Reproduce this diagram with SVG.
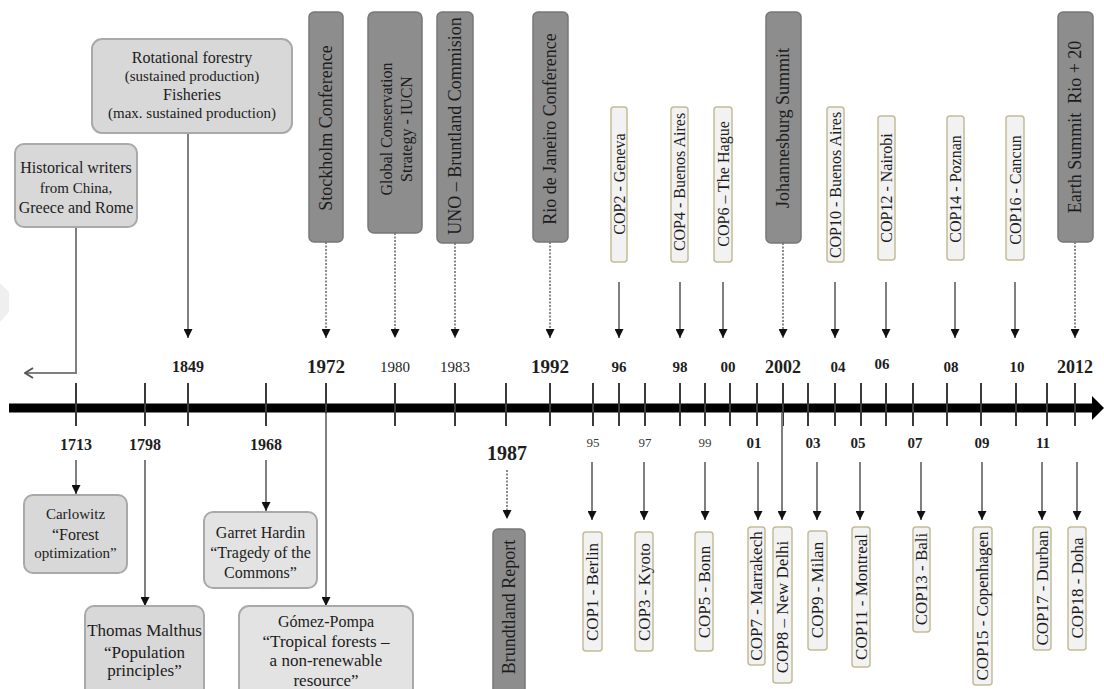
<svg xmlns="http://www.w3.org/2000/svg" width="1104" height="689" viewBox="0 0 1104 689">
<defs>
<style>
.t{font-family:'Liberation Serif','Times New Roman',serif;fill:#1c1c1c}
.yr{font-family:'Liberation Serif','Times New Roman',serif;fill:#1e1e1e;text-anchor:middle}
.sm{fill:#3a3a3a}
.b{font-weight:bold}
.bl{fill:#d8d8d8;stroke:#a9a9a9;stroke-width:2}
.bl2{fill:#e3e3e3;stroke:#a9a9a9;stroke-width:2}
.bd{fill:#8d8d8d;stroke:#777;stroke-width:1.5}
.bc{fill:#f2f2f2;stroke:#c3bc96;stroke-width:1.5}
.conn{stroke:#7f7f7f;stroke-width:2;fill:none}
.dot{stroke:#8a8a8a;stroke-width:2;stroke-dasharray:2 1.5;fill:none}
.tick{stroke:#3a3a3a;stroke-width:2}
.c{text-anchor:middle}
</style>
<marker id="ah" viewBox="0 0 10 10" refX="10" refY="5" markerWidth="9" markerHeight="9" markerUnits="userSpaceOnUse" orient="auto">
<path d="M0,0 L10,5 L0,10 z" fill="#111"/>
</marker>
<marker id="oh" viewBox="0 0 10 12" refX="9" refY="6" markerWidth="10" markerHeight="12" markerUnits="userSpaceOnUse" orient="auto">
<path d="M1,1 L9,6 L1,11" fill="none" stroke="#555" stroke-width="2"/>
</marker>
</defs>
<rect width="1104" height="689" fill="#fff"/>
<polygon points="0,283 9,292 9,312 0,322" fill="#efefef"/>

<!-- timeline axis -->
<g id="axis">
<line x1="9" y1="408" x2="1094" y2="408" stroke="#000" stroke-width="9"/>
<polygon points="1092,396 1104,408 1092,420" fill="#000"/>
<g class="tick">
<line x1="76" y1="383" x2="76" y2="426"/>
<line x1="145" y1="383" x2="145" y2="426"/>
<line x1="188" y1="383" x2="188" y2="426"/>
<line x1="266" y1="383" x2="266" y2="426"/>
<line x1="326" y1="383" x2="326" y2="426"/>
<line x1="395" y1="383" x2="395" y2="426"/>
<line x1="455" y1="383" x2="455" y2="426"/>
<line x1="506" y1="383" x2="506" y2="426"/>
<line x1="550" y1="383" x2="550" y2="426"/>
<line x1="593" y1="383" x2="593" y2="426"/>
<line x1="619" y1="383" x2="619" y2="426"/>
<line x1="645" y1="383" x2="645" y2="426"/>
<line x1="680" y1="383" x2="680" y2="426"/>
<line x1="705" y1="383" x2="705" y2="426"/>
<line x1="730" y1="383" x2="730" y2="426"/>
<line x1="757" y1="383" x2="757" y2="426"/>
<line x1="783" y1="383" x2="783" y2="426"/>
<line x1="808" y1="383" x2="808" y2="426"/>
<line x1="835" y1="383" x2="835" y2="426"/>
<line x1="861" y1="383" x2="861" y2="426"/>
<line x1="886" y1="383" x2="886" y2="426"/>
<line x1="913" y1="383" x2="913" y2="426"/>
<line x1="947" y1="383" x2="947" y2="426"/>
<line x1="981" y1="383" x2="981" y2="426"/>
<line x1="1016" y1="383" x2="1016" y2="426"/>
<line x1="1047" y1="383" x2="1047" y2="426"/>
<line x1="1075" y1="383" x2="1075" y2="426"/>
</g>
</g>

<!-- year labels -->
<g id="years">
<text class="yr b" x="188" y="372" font-size="16">1849</text>
<text class="yr b" x="326" y="373" font-size="19">1972</text>
<text class="yr" x="395" y="372" font-size="15">1980</text>
<text class="yr" x="455" y="372" font-size="15">1983</text>
<text class="yr b" x="550" y="373" font-size="19">1992</text>
<text class="yr b" x="619" y="372" font-size="15">96</text>
<text class="yr b" x="680" y="372" font-size="15">98</text>
<text class="yr b" x="728" y="372" font-size="15">00</text>
<text class="yr b" x="783" y="373" font-size="18">2002</text>
<text class="yr b" x="838" y="372" font-size="15">04</text>
<text class="yr b" x="882" y="369" font-size="15">06</text>
<text class="yr b" x="951" y="372" font-size="15">08</text>
<text class="yr b" x="1017" y="372" font-size="15">10</text>
<text class="yr b" x="1075" y="373" font-size="18">2012</text>
<text class="yr b" x="76" y="450" font-size="16">1713</text>
<text class="yr b" x="145" y="450" font-size="16">1798</text>
<text class="yr b" x="266" y="450" font-size="16">1968</text>
<text class="yr b" x="507" y="460" font-size="20">1987</text>
<text class="yr sm" x="593" y="447" font-size="13">95</text>
<text class="yr sm" x="645" y="447" font-size="13">97</text>
<text class="yr sm" x="705" y="447" font-size="13">99</text>
<text class="yr b" x="754" y="448" font-size="15">01</text>
<text class="yr b" x="813" y="448" font-size="15">03</text>
<text class="yr b" x="858" y="448" font-size="15">05</text>
<text class="yr b" x="915" y="448" font-size="15">07</text>
<text class="yr b" x="982" y="448" font-size="15">09</text>
<text class="yr b" x="1043" y="448" font-size="15">11</text>
</g>

<!-- connectors -->
<g id="connectors">
<polyline class="conn" points="76,227 76,373 25,373" stroke="#666" marker-end="url(#oh)"/>
<line class="conn" x1="188" y1="133" x2="188" y2="338" marker-end="url(#ah)"/>
<line class="dot" x1="326" y1="242" x2="326" y2="338" marker-end="url(#ah)"/>
<line class="dot" x1="395" y1="233" x2="395" y2="338" marker-end="url(#ah)"/>
<line class="dot" x1="455" y1="243" x2="455" y2="338" marker-end="url(#ah)"/>
<line class="dot" x1="550" y1="242" x2="550" y2="338" marker-end="url(#ah)"/>
<line class="conn" x1="619" y1="282" x2="619" y2="338" marker-end="url(#ah)"/>
<line class="conn" x1="680" y1="282" x2="680" y2="338" marker-end="url(#ah)"/>
<line class="conn" x1="723" y1="282" x2="723" y2="338" marker-end="url(#ah)"/>
<line class="dot" x1="783" y1="243" x2="783" y2="338" marker-end="url(#ah)"/>
<line class="conn" x1="835" y1="282" x2="835" y2="338" marker-end="url(#ah)"/>
<line class="conn" x1="886" y1="282" x2="886" y2="338" marker-end="url(#ah)"/>
<line class="conn" x1="955" y1="282" x2="955" y2="338" marker-end="url(#ah)"/>
<line class="conn" x1="1015" y1="282" x2="1015" y2="338" marker-end="url(#ah)"/>
<line class="dot" x1="1075" y1="242" x2="1075" y2="338" marker-end="url(#ah)"/>

<line class="conn" x1="76" y1="460" x2="76" y2="494" marker-end="url(#ah)"/>
<line class="conn" x1="145" y1="460" x2="145" y2="606" marker-end="url(#ah)"/>
<line class="conn" x1="266" y1="460" x2="266" y2="511" marker-end="url(#ah)"/>
<line class="conn" x1="326" y1="413" x2="326" y2="606" marker-end="url(#ah)"/>
<line class="dot" x1="507" y1="470" x2="507" y2="519" marker-end="url(#ah)"/>
<line class="conn" x1="592" y1="462" x2="592" y2="520" marker-end="url(#ah)"/>
<line class="conn" x1="644" y1="462" x2="644" y2="520" marker-end="url(#ah)"/>
<line class="conn" x1="705" y1="462" x2="705" y2="520" marker-end="url(#ah)"/>
<line class="conn" x1="758" y1="462" x2="758" y2="520" marker-end="url(#ah)"/>
<line class="conn" x1="782" y1="413" x2="782" y2="520" marker-end="url(#ah)"/>
<line class="conn" x1="817" y1="462" x2="817" y2="520" marker-end="url(#ah)"/>
<line class="conn" x1="860" y1="462" x2="860" y2="520" marker-end="url(#ah)"/>
<line class="conn" x1="921" y1="462" x2="921" y2="520" marker-end="url(#ah)"/>
<line class="conn" x1="982" y1="462" x2="982" y2="520" marker-end="url(#ah)"/>
<line class="conn" x1="1042" y1="462" x2="1042" y2="520" marker-end="url(#ah)"/>
<line class="conn" x1="1077" y1="462" x2="1077" y2="520" marker-end="url(#ah)"/>
</g>

<!-- top nodes -->
<g id="historical">
<rect class="bl" x="15" y="144" width="122" height="83" rx="9"/>
<text class="t c" x="76" y="173" font-size="16">Historical writers</text>
<text class="t c" x="76" y="193" font-size="15">from China,</text>
<text class="t c" x="76" y="213" font-size="16">Greece and Rome</text>
</g>
<g id="rotational">
<rect class="bl" x="92" y="39" width="200" height="94" rx="10"/>
<text class="t c" x="192" y="63" font-size="16">Rotational forestry</text>
<text class="t c" x="192" y="81" font-size="15">(sustained production)</text>
<text class="t c" x="192" y="100" font-size="16">Fisheries</text>
<text class="t c" x="192" y="118" font-size="15">(max. sustained production)</text>
</g>
<g id="stockholm">
<rect class="bd" x="309" y="12" width="34" height="230" rx="5"/>
<text class="t c" font-size="18" transform="translate(326,128) rotate(-90)" dy="0.35em">Stockholm Conference</text>
</g>
<g id="gcs">
<rect class="bd" x="368" y="12" width="54" height="221" rx="6"/>
<text class="t c" font-size="16" transform="translate(386,129) rotate(-90)" dy="0.35em">Global Conservation</text>
<text class="t c" font-size="16" transform="translate(406,129) rotate(-90)" dy="0.35em">Strategy - IUCN</text>
</g>
<g id="uno">
<rect class="bd" x="437" y="12" width="36" height="231" rx="5"/>
<text class="t c" font-size="18" transform="translate(455,126) rotate(-90)" dy="0.35em">UNO – Bruntland Commision</text>
</g>
<g id="rio">
<rect class="bd" x="533" y="12" width="35" height="230" rx="5"/>
<text class="t c" font-size="18" transform="translate(550,129) rotate(-90)" dy="0.35em">Rio de Janeiro Conference</text>
</g>
<g id="cop2">
<rect class="bc" x="611" y="107" width="16" height="155" rx="3"/>
<text class="t c" font-size="16" transform="translate(619,184) rotate(-90)" dy="0.35em">COP2 - Geneva</text>
</g>
<g id="cop4">
<rect class="bc" x="671" y="107" width="17" height="155" rx="3"/>
<text class="t c" font-size="16" transform="translate(679.5,182) rotate(-90)" dy="0.35em">COP4 - Buenos Aires</text>
</g>
<g id="cop6">
<rect class="bc" x="714" y="107" width="18" height="155" rx="3"/>
<text class="t c" font-size="16" transform="translate(723,184) rotate(-90)" dy="0.35em">COP6 – The Hague</text>
</g>
<g id="johannesburg">
<rect class="bd" x="766" y="12" width="35" height="231" rx="5"/>
<text class="t c" font-size="18" transform="translate(783,128) rotate(-90)" dy="0.35em">Johannesburg Summit</text>
</g>
<g id="cop10">
<rect class="bc" x="827" y="107" width="17" height="155" rx="3"/>
<text class="t c" font-size="16" transform="translate(835.5,185) rotate(-90)" dy="0.35em">COP10 - Buenos Aires</text>
</g>
<g id="cop12">
<rect class="bc" x="878" y="116" width="17" height="144" rx="3"/>
<text class="t c" font-size="16" transform="translate(886.5,188) rotate(-90)" dy="0.35em">COP12 - Nairobi</text>
</g>
<g id="cop14">
<rect class="bc" x="947" y="116" width="17" height="144" rx="3"/>
<text class="t c" font-size="16" transform="translate(955.5,189) rotate(-90)" dy="0.35em">COP14 - Poznan</text>
</g>
<g id="cop16">
<rect class="bc" x="1006" y="116" width="18" height="144" rx="3"/>
<text class="t c" font-size="16" transform="translate(1015,190) rotate(-90)" dy="0.35em">COP16 - Cancun</text>
</g>
<g id="earth">
<rect class="bd" x="1058" y="12" width="35" height="230" rx="5"/>
<text class="t c" font-size="18" transform="translate(1075,127) rotate(-90)" dy="0.35em">Earth Summit<tspan dx="9">Rio + 20</tspan></text>
</g>

<!-- bottom nodes -->
<g id="carlowitz">
<rect class="bl" x="24" y="495" width="103" height="78" rx="9"/>
<text class="t c" x="75.5" y="519" font-size="15">Carlowitz</text>
<text class="t c" x="75.5" y="540" font-size="16">“Forest</text>
<text class="t c" x="75.5" y="558" font-size="15">optimization”</text>
</g>
<g id="malthus">
<rect class="bl" x="85" y="606" width="119" height="95" rx="9"/>
<text class="t c" x="144.5" y="636" font-size="17">Thomas Malthus</text>
<text class="t c" x="144.5" y="658" font-size="17">“Population</text>
<text class="t c" x="144.5" y="676" font-size="17">principles”</text>
</g>
<g id="hardin">
<rect class="bl2" x="204" y="512" width="113" height="76" rx="9"/>
<text class="t c" x="260.5" y="538" font-size="16">Garret Hardin</text>
<text class="t c" x="260.5" y="558" font-size="16">“Tragedy of the</text>
<text class="t c" x="260.5" y="578" font-size="16">Commons”</text>
</g>
<g id="gomez">
<rect class="bl2" x="239" y="606" width="174" height="95" rx="10"/>
<text class="t c" x="326" y="627" font-size="16">Gómez-Pompa</text>
<text class="t c" x="326" y="647" font-size="17">“Tropical forests –</text>
<text class="t c" x="326" y="666" font-size="17">a non-renewable</text>
<text class="t c" x="326" y="686" font-size="17">resource”</text>
</g>
<g id="brundtland">
<rect class="bd" x="493" y="529" width="32" height="172" rx="5"/>
<text class="t c" font-size="18" transform="translate(509,607) rotate(-90)" dy="0.35em">Brundtland Report</text>
</g>
<g id="cop1">
<rect class="bc" x="583" y="532" width="19" height="119" rx="3"/>
<text class="t c" font-size="17" transform="translate(592.5,592) rotate(-90)" dy="0.35em">COP1 - Berlin</text>
</g>
<g id="cop3">
<rect class="bc" x="635" y="532" width="18" height="119" rx="3"/>
<text class="t c" font-size="17" transform="translate(644,592) rotate(-90)" dy="0.35em">COP3 - Kyoto</text>
</g>
<g id="cop5">
<rect class="bc" x="695" y="532" width="18" height="119" rx="3"/>
<text class="t c" font-size="17" transform="translate(704,592) rotate(-90)" dy="0.35em">COP5 - Bonn</text>
</g>
<g id="cop7">
<rect class="bc" x="748" y="527" width="17" height="138" rx="3"/>
<text class="t c" font-size="17" transform="translate(756.5,596) rotate(-90)" dy="0.35em">COP7 - Marrakech</text>
</g>
<g id="cop8">
<rect class="bc" x="773" y="527" width="19" height="156" rx="3"/>
<text class="t c" font-size="17" transform="translate(782.5,607) rotate(-90)" dy="0.35em">COP8 – New Delhi</text>
</g>
<g id="cop9">
<rect class="bc" x="808" y="531" width="19" height="119" rx="3"/>
<text class="t c" font-size="17" transform="translate(817.5,590) rotate(-90)" dy="0.35em">COP9 - Milan</text>
</g>
<g id="cop11">
<rect class="bc" x="852" y="527" width="18" height="140" rx="3"/>
<text class="t c" font-size="17" transform="translate(861,597) rotate(-90)" dy="0.35em">COP11 - Montreal</text>
</g>
<g id="cop13">
<rect class="bc" x="913" y="527" width="17" height="105" rx="3"/>
<text class="t c" font-size="17" transform="translate(921.5,579) rotate(-90)" dy="0.35em">COP13 - Bali</text>
</g>
<g id="cop15">
<rect class="bc" x="973" y="527" width="19" height="158" rx="3"/>
<text class="t c" font-size="17" transform="translate(982.5,606) rotate(-90)" dy="0.35em">COP15 - Copenhagen</text>
</g>
<g id="cop17">
<rect class="bc" x="1033" y="527" width="18" height="123" rx="3"/>
<text class="t c" font-size="17" transform="translate(1042,588) rotate(-90)" dy="0.35em">COP17 - Durban</text>
</g>
<g id="cop18">
<rect class="bc" x="1068" y="527" width="18" height="123" rx="3"/>
<text class="t c" font-size="17" transform="translate(1077,588) rotate(-90)" dy="0.35em">COP18 - Doha</text>
</g>
</svg>
